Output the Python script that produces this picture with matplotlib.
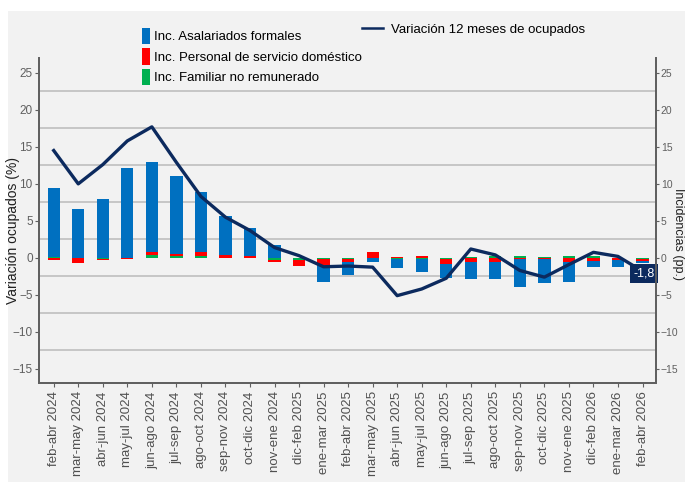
import matplotlib
matplotlib.use("Agg")
import matplotlib.pyplot as plt
import numpy as np
from matplotlib.patches import Rectangle, Patch
from matplotlib.lines import Line2D

SANS = "Liberation Sans"

categories = ["feb-abr 2024", "mar-may 2024", "abr-jun 2024", "may-jul 2024", "jun-ago 2024",
              "jul-sep 2024", "ago-oct 2024", "sep-nov 2024", "oct-dic 2024", "nov-ene 2024",
              "dic-feb 2025", "ene-mar 2025", "feb-abr 2025", "mar-may 2025", "abr-jun 2025",
              "may-jul 2025", "jun-ago 2025", "jul-sep 2025", "ago-oct 2025", "sep-nov 2025",
              "oct-dic 2025", "nov-ene 2025", "dic-feb 2026", "ene-mar 2026", "feb-abr 2026"]

asalariados = [9.4, 6.6, 8.0, 12.2, 12.2, 10.5, 8.1, 5.2, 3.7, 1.8,
               0.0, -2.3, -1.7, -0.5, -1.3, -1.8, -1.9, -2.3, -2.4, -3.7,
               -3.2, -2.7, -0.8, -0.9, -0.35]
domestico = [-0.3, -0.7, -0.25, -0.1, 0.4, 0.3, 0.55, 0.35, 0.3, -0.3,
             -0.9, -0.7, -0.4, 0.75, 0.15, 0.25, -0.7, -0.55, -0.5, -0.2,
             -0.2, -0.5, -0.45, -0.35, -0.25]
familiar = [0.1, 0.05, -0.1, 0.0, 0.4, 0.27, 0.27, 0.05, 0.0, -0.25,
            -0.25, -0.2, -0.2, 0.05, -0.1, -0.1, -0.15, 0.15, 0.25, 0.3,
            0.1, 0.3, 0.25, 0.05, -0.15]
variacion = [14.5, 10.0, 12.6, 15.8, 17.7, 12.9, 8.3, 5.5, 3.7, 1.4,
             0.3, -1.2, -1.1, -1.25, -5.1, -4.2, -2.75, 1.2, 0.4, -1.7,
             -2.6, -0.9, 0.75, 0.2, -1.8]
end_label = "-1,8"

C_BLUE = "#0070c0"
C_RED = "#ff0000"
C_GREEN = "#00b050"
C_LINE = "#0c2a5e"
BG = "#f2f2f2"

L, R, T, B = 39, 656, 58, 383
fig = plt.figure(figsize=(6.85, 4.82), dpi=100, facecolor="white")
fig.patches.append(Rectangle((8 / 685, 0), 1, 1 - 11 / 482, transform=fig.transFigure,
                             facecolor=BG, edgecolor="none", zorder=-10))
ax = fig.add_axes([L / 685, 1 - B / 482, (R - L) / 685, (B - T) / 482])
ax.set_facecolor(BG)

x = np.arange(len(categories))
w = 0.5
# stacking order from zero outward: green, red, blue (separately for positives and negatives)
pos = np.zeros(len(x))
neg = np.zeros(len(x))
for vals, col in [(familiar, C_GREEN), (domestico, C_RED), (asalariados, C_BLUE)]:
    v = np.array(vals, dtype=float)
    bottoms = np.where(v >= 0, pos, neg)
    ax.bar(x, v, width=w, bottom=bottoms, color=col, edgecolor="none", zorder=3)
    pos = pos + np.where(v >= 0, v, 0)
    neg = neg + np.where(v < 0, v, 0)

ax.plot(x, variacion, color=C_LINE, lw=2.4, zorder=5)

# end label
ax.annotate(end_label, (x[-1], variacion[-1]), xytext=(1.0, -1.5), textcoords="offset points",
            ha="center", va="center", color="white", fontsize=9, family=SANS, zorder=6,
            bbox=dict(boxstyle="square,pad=0.3", facecolor=C_LINE, edgecolor="none"))

ax.set_xlim(-0.6, len(x) - 0.45)
ax.set_ylim(-16.9, 27.0)
yt = [25, 20, 15, 10, 5, 0, -5, -10, -15]
ax.set_yticks(yt)
for g in [22.5, 17.5, 12.5, 7.5, 2.5, -2.5, -7.5, -12.5]:
    ax.axhline(g, color="#c3c3c3", lw=1.3, zorder=1)

ax.set_xticks(x)
ax.set_xticklabels(categories, rotation=90, fontsize=9.5, family=SANS, color="#505050")
ax.tick_params(axis="x", length=3, color="#606060", pad=3)
ax.tick_params(axis="y", length=3, color="#606060", labelsize=8.5, labelcolor="#606060", pad=1.5)
for lab in ax.get_yticklabels():
    lab.set_family(SANS)

ax.spines["top"].set_visible(False)
for s in ["left", "bottom", "right"]:
    ax.spines[s].set_color("#606060")
    ax.spines[s].set_linewidth(1.3)

ax2 = ax.twinx()
ax2.set_ylim(ax.get_ylim())
ax2.set_yticks(yt)
ax2.tick_params(axis="y", length=2.5, color="#606060", labelsize=7.5, labelcolor="#606060", pad=1)
for lab in ax2.get_yticklabels():
    lab.set_family(SANS)
ax2.spines["top"].set_visible(False)
for s in ["left", "bottom", "right"]:
    ax2.spines[s].set_color("#606060")
    ax2.spines[s].set_linewidth(1.3)

ax.set_ylabel("Variación ocupados (%)", fontsize=10, family=SANS, color="#202020")
ax.yaxis.set_label_coords((20 - L) / (R - L), 0.47)
ax2.set_ylabel("Incidencias (pp.)", fontsize=9, family=SANS, color="#202020", rotation=270,
               va="center")
ax2.yaxis.set_label_coords((678 - L) / (R - L), 0.46)

handles = [Patch(facecolor=C_BLUE), Patch(facecolor=C_RED), Patch(facecolor=C_GREEN)]
labels = ["Inc. Asalariados formales", "Inc. Personal de servicio doméstico",
          "Inc. Familiar no remunerado"]
fig.legend(handles, labels, loc="upper left", bbox_to_anchor=(130 / 685, 1 - 16 / 482),
           frameon=False, handlelength=0.6, handleheight=1.55, handletextpad=0.35,
           labelspacing=0.3, prop=dict(family=SANS, size=9.5))
fig.legend([Line2D([0], [0], color=C_LINE, lw=1.8)], ["Variación 12 meses de ocupados"],
           loc="upper left", bbox_to_anchor=(350 / 685, 1 - 12 / 482), frameon=False,
           handlelength=1.6, handletextpad=0.6, prop=dict(family=SANS, size=9.5))

fig.savefig("out.png", dpi=100, facecolor=fig.get_facecolor())
